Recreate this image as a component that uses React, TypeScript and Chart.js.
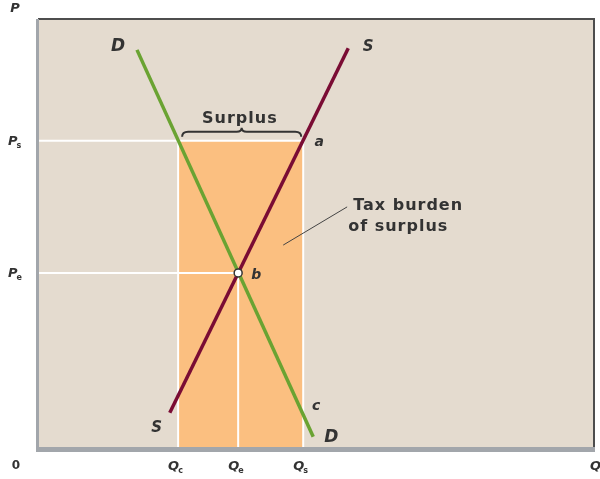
import React, { useEffect, useRef } from "react";
import { Chart, registerables } from "chart.js";

Chart.register(...registerables);

// Values (arbitrary units, 0..100 on both axes)
const demandX = [17.8, 49.5];
const demandY = [92.8, 2.6];
const supplyX = [23.7, 55.8];
const supplyY = [8.2, 93.2];
const qValues = [25.2, 36.0, 47.7]; // Qc, Qe, Qs
const pValues = [71.6, 40.8]; // Ps, Pe
const leaderX = [44.1, 55.6];
const leaderY = [47.3, 56.2];
const qLabels = [["Q", "c"], ["Q", "e"], ["Q", "s"]];
const pLabels = [["P", "s"], ["P", "e"]];

const BG = "#e4dbcf";
const ORANGE = "#fbbf80";
const GREEN = "#6aa332";
const MAROON = "#7a0c34";
const TEXT = "#333333";
const FONT = `"DejaVu Sans", Lato, sans-serif`;

export default function App() {
  const ref = useRef<HTMLCanvasElement>(null);

  useEffect(() => {
    if (!ref.current) return;
    const [Qc, Qe, Qs] = qValues;
    const [Ps, Pe] = pValues;

    const drawSub = (ctx: CanvasRenderingContext2D, main: string, sub: string, x: number, y: number, size = 13) => {
      ctx.save();
      ctx.fillStyle = TEXT;
      ctx.textBaseline = "middle";
      ctx.textAlign = "left";
      ctx.font = `italic bold ${size}px ${FONT}`;
      const w = ctx.measureText(main).width;
      ctx.fillText(main, x, y);
      ctx.font = `bold ${Math.round(size * 0.62)}px ${FONT}`;
      ctx.fillText(sub, x + w - 1, y + 4);
      ctx.restore();
    };

    const plugin = {
      id: "econ",
      beforeDraw(chart: any) {
        const { ctx, chartArea: a } = chart;
        ctx.save();
        ctx.fillStyle = "#ffffff";
        ctx.fillRect(0, 0, chart.width, chart.height);
        ctx.fillStyle = BG;
        ctx.fillRect(a.left, a.top, a.right - a.left, a.bottom - a.top);
        ctx.restore();
      },
      afterDraw(chart: any) {
        const { ctx, chartArea: a, scales } = chart;
        const xs = scales.x, ys = scales.y;
        ctx.save();
        // borders
        ctx.strokeStyle = "#4d4d4d";
        ctx.lineWidth = 2;
        ctx.beginPath();
        ctx.moveTo(a.left, a.top);
        ctx.lineTo(a.right, a.top);
        ctx.lineTo(a.right, a.bottom);
        ctx.stroke();
        ctx.strokeStyle = "#a2a6ab";
        ctx.lineWidth = 3;
        ctx.beginPath();
        ctx.moveTo(a.left - 0.5, a.top);
        ctx.lineTo(a.left - 0.5, a.bottom);
        ctx.stroke();
        ctx.lineWidth = 5;
        ctx.beginPath();
        ctx.moveTo(a.left - 2, a.bottom + 1.5);
        ctx.lineTo(a.right + 1, a.bottom + 1.5);
        ctx.stroke();

        // brace over surplus
        const bx1 = xs.getPixelForValue(Qc) + 4;
        const bx2 = xs.getPixelForValue(Qs) - 2;
        const by = ys.getPixelForValue(Ps) - 9;
        const mid = (bx1 + bx2) / 2;
        ctx.strokeStyle = "#333";
        ctx.lineWidth = 2;
        ctx.beginPath();
        ctx.moveTo(bx1, by + 5);
        ctx.quadraticCurveTo(bx1, by, bx1 + 6, by);
        ctx.lineTo(mid - 5, by);
        ctx.quadraticCurveTo(mid, by, mid, by - 4);
        ctx.quadraticCurveTo(mid, by, mid + 5, by);
        ctx.lineTo(bx2 - 6, by);
        ctx.quadraticCurveTo(bx2, by, bx2, by + 5);
        ctx.stroke();

        ctx.fillStyle = TEXT;
        ctx.textBaseline = "alphabetic";
        ctx.font = `bold 16px ${FONT}`;
        (ctx as any).letterSpacing = "1px";
        ctx.textAlign = "left";
        ctx.fillText("Surplus", 202, by - 9);
        const lx = xs.getPixelForValue(leaderX[1]) + 5;
        const ly = ys.getPixelForValue(leaderY[1]);
        ctx.fillText("Tax burden", lx + 1, ly + 3);
        ctx.fillText("of surplus", lx - 4, ly + 24);
        (ctx as any).letterSpacing = "0px";

        // curve labels
        ctx.textBaseline = "middle";
        ctx.font = `italic bold 17px ${FONT}`;
        ctx.textAlign = "center";
        ctx.fillText("D", xs.getPixelForValue(demandX[0]) - 19, ys.getPixelForValue(demandY[0]) - 3);
        ctx.fillText("D", xs.getPixelForValue(demandX[1]) + 18, ys.getPixelForValue(demandY[1]) + 1);
        ctx.font = `italic bold 15px ${FONT}`;
        ctx.fillText("S", xs.getPixelForValue(supplyX[1]) + 20, ys.getPixelForValue(supplyY[1]) - 1);
        ctx.fillText("S", xs.getPixelForValue(supplyX[0]) - 13, ys.getPixelForValue(supplyY[0]) + 15);
        ctx.font = `italic bold 14px ${FONT}`;
        ctx.fillText("a", xs.getPixelForValue(Qs) + 16, ys.getPixelForValue(Ps) + 2);
        ctx.fillText("b", xs.getPixelForValue(Qe) + 18, ys.getPixelForValue(Pe) + 2);
        ctx.fillText("c", xs.getPixelForValue(Qs) + 13, ys.getPixelForValue(demandY[1]) - 30);

        // axis labels
        ctx.font = `italic bold 13px ${FONT}`;
        ctx.fillText("P", 15, 9);
        ctx.font = `bold 12px ${FONT}`;
        ctx.fillText("0", 16, 466);
        pValues.forEach((v, i) => {
          drawSub(ctx, pLabels[i][0], pLabels[i][1], 8, ys.getPixelForValue(v) + 1);
        });
        qValues.forEach((v, i) => {
          drawSub(ctx, qLabels[i][0], qLabels[i][1], xs.getPixelForValue(v) - 10, 467);
        });
        drawSub(ctx, "Q", "", 590, 467);
        ctx.restore();
      },
    };

    const line = (data: any[], color: string, width: number, order: number, extra: any = {}) => ({
      type: "line",
      data,
      borderColor: color,
      borderWidth: width,
      pointRadius: 0,
      fill: false,
      order,
      ...extra,
    });

    const chart = new Chart(ref.current, {
      type: "scatter",
      data: {
        datasets: [
          {
            type: "scatter",
            data: [{ x: Qe, y: Pe }],
            pointRadius: 4,
            pointBackgroundColor: "#ffffff",
            pointBorderColor: "#333333",
            pointBorderWidth: 1.5,
            order: 0,
          },
          line([{ x: leaderX[0], y: leaderY[0] }, { x: leaderX[1], y: leaderY[1] }], "#444", 1, 1),
          line([{ x: supplyX[0], y: supplyY[0] }, { x: supplyX[1], y: supplyY[1] }], MAROON, 3.5, 2),
          line([{ x: demandX[0], y: demandY[0] }, { x: demandX[1], y: demandY[1] }], GREEN, 3.5, 3),
          line([{ x: 0, y: Ps }, { x: Qs, y: Ps }], "#ffffff", 2, 4),
          line([{ x: 0, y: Pe }, { x: Qe, y: Pe }], "#ffffff", 2, 4),
          line([{ x: Qc, y: 0 }, { x: Qc, y: Ps }], "#ffffff", 2, 4),
          line([{ x: Qe, y: 0 }, { x: Qe, y: Pe }], "#ffffff", 2, 4),
          line([{ x: Qs, y: 0 }, { x: Qs, y: Ps }], "#ffffff", 2, 4),
          line([{ x: Qc, y: Ps }, { x: Qs, y: Ps }], ORANGE, 0, 5, {
            fill: "origin",
            backgroundColor: ORANGE,
          }),
        ] as any,
      },
      options: {
        responsive: false,
        animation: false,
        layout: { padding: { left: 38, right: 6, top: 19, bottom: 31 } },
        plugins: { legend: { display: false }, tooltip: { enabled: false } },
        scales: {
          x: { type: "linear", min: 0, max: 100, display: false },
          y: { type: "linear", min: 0, max: 100, display: false },
        },
      },
      plugins: [plugin],
    } as any);
    return () => chart.destroy();
  }, []);

  return (
    <div style={{ position: "fixed", left: 0, top: 0, width: 600, height: 479, background: "#fff" }}>
      <canvas ref={ref} width={600} height={479} />
    </div>
  );
}
